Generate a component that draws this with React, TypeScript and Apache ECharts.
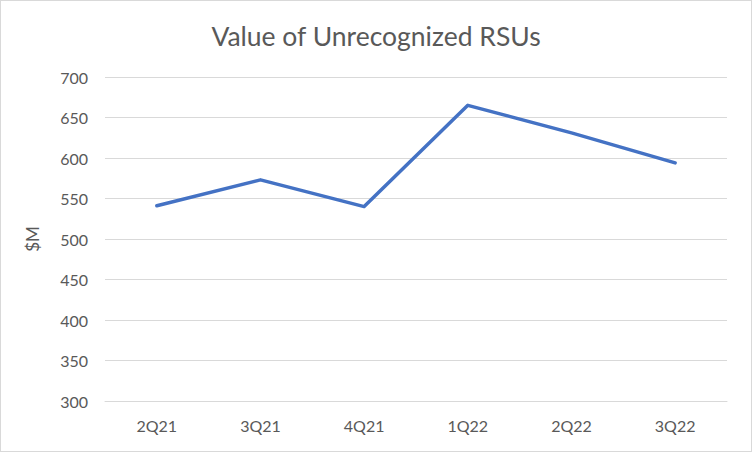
import React, { useEffect, useRef } from "react";
import * as echarts from "echarts";

const categories = ["2Q21", "3Q21", "4Q21", "1Q22", "2Q22", "3Q22"];
const values = [541, 573, 540, 665, 631, 594];
const yTicks = { min: 300, max: 700, interval: 50 };

export default function App() {
  const ref = useRef<HTMLDivElement>(null);
  useEffect(() => {
    if (!ref.current) return;
    const chart = echarts.init(ref.current, null, { renderer: "svg" });
    chart.setOption({
      animation: false,
      backgroundColor: "#ffffff",
      title: {
        text: "Value of Unrecognized RSUs",
        left: "center",
        top: 16,
        textStyle: {
          fontFamily: "Lato",
          fontSize: 26.5,
          fontWeight: "normal",
          color: "#595959",
        },
      },
      grid: { left: 104, right: 24, top: 76, bottom: 50 },
      xAxis: {
        type: "category",
        data: categories,
        boundaryGap: true,
        axisLine: { show: true, lineStyle: { color: "#d9d9d9", width: 1 } },
        axisTick: { show: false },
        axisLabel: {
          color: "#595959",
          fontSize: 16,
          fontFamily: "Lato",
          margin: 16,
        },
      },
      yAxis: {
        type: "value",
        min: yTicks.min,
        max: yTicks.max,
        interval: yTicks.interval,
        name: "$M",
        nameLocation: "middle",
        nameGap: 64,
        nameRotate: 90,
        nameTextStyle: { color: "#595959", fontSize: 17, fontFamily: "Lato" },
        axisLine: { show: false },
        axisTick: { show: false },
        axisLabel: {
          color: "#595959",
          fontSize: 16,
          fontFamily: "Lato",
          margin: 17,
        },
        splitLine: { lineStyle: { color: "#d9d9d9", width: 1 } },
      },
      series: [
        {
          type: "line",
          data: values,
          showSymbol: false,
          symbol: "none",
          lineStyle: { color: "#4472C4", width: 3.5, cap: "round", join: "round" },
          itemStyle: { color: "#4472C4" },
        },
      ],
    });
    return () => chart.dispose();
  }, []);
  return (
    <div
      style={{
        position: "fixed",
        left: 0,
        top: 0,
        width: 752,
        height: 452,
        boxSizing: "border-box",
        border: "1px solid #d9d9d9",
        background: "#fff",
      }}
    >
      <div ref={ref} style={{ width: 750, height: 450 }} />
    </div>
  );
}
